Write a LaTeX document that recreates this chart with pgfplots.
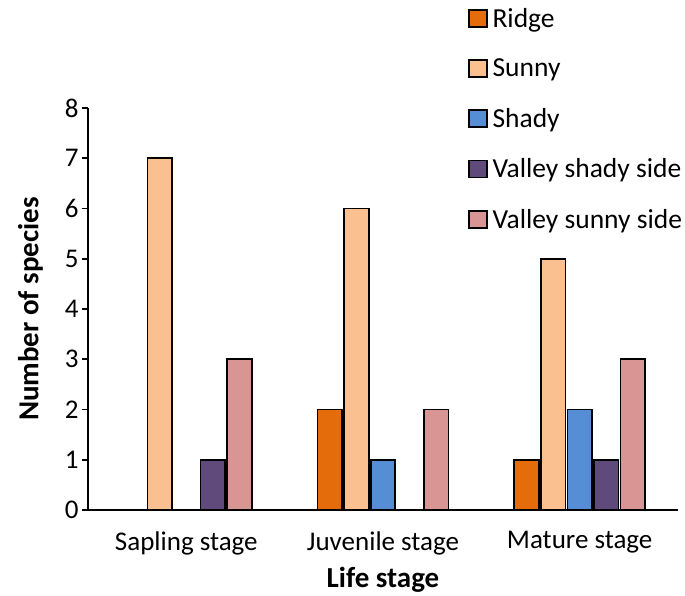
\documentclass[border=0pt]{standalone}
\usepackage{pgfplots}
\pgfplotsset{compat=1.18}
\usepackage{fontspec}
\setmainfont{Carlito}
\definecolor{cRidge}{HTML}{E46C0A}
\definecolor{cSunny}{HTML}{FAC090}
\definecolor{cShady}{HTML}{558ED5}
\definecolor{cVsh}{HTML}{604A7B}
\definecolor{cVsu}{HTML}{D99594}
\begin{document}
\begin{tikzpicture}
\begin{axis}[
  scale only axis,
  width=590pt, height=402pt,
  ybar, bar width=0.125,
  xmin=-0.5, xmax=2.5, ymin=0, ymax=8,
  xtick={0,1,2},
  xticklabels={Sapling stage,Juvenile stage,Mature stage},
  ytick={0,1,...,8},
  axis x line=bottom, axis y line=left,
  axis line style={-, line width=1.6pt, black},
  x tick style={draw=none},
  y tick style={line width=1.6pt, black},
  tick align=outside, major tick length=6pt,
  /pgf/number format/assume math mode=true,
  ticklabel style={font=\fontsize{27}{31}\selectfont},
  xticklabel style={yshift=-12pt},
  xlabel={\textbf{Life stage}},
  ylabel={\textbf{Number of species}},
  label style={font=\fontsize{29}{33}\selectfont},
  xlabel style={yshift=-5pt},
  ylabel style={yshift=15pt},
  every axis plot/.append style={draw=black, line width=1.6pt},
  legend cell align=left,
  legend style={draw=none, at={(0.644,1.254)}, anchor=north west,
    font=\fontsize{27.5}{31}\selectfont, row sep=26pt, inner sep=0pt,
    nodes={inner xsep=5pt}},
  legend image code/.code={\draw[#1, line width=1.4pt] (0pt,-8.5pt) rectangle (18pt,8.5pt);},
]
\addplot[fill=cRidge] coordinates {(0,0) (1,2) (2,1)};
\addplot[fill=cSunny] coordinates {(0,7) (1,6) (2,5)};
\addplot[fill=cShady] coordinates {(0,0) (1,1) (2,2)};
\addplot[fill=cVsh] coordinates {(0,1) (1,0) (2,1)};
\addplot[fill=cVsu] coordinates {(0,3) (1,2) (2,3)};
\legend{Ridge,Sunny,Shady,Valley shady side,Valley sunny side}
\end{axis}
\pgfresetboundingbox
\path (current axis.south west) ++(-88pt,-86pt) rectangle ++(685pt,596pt);
\end{tikzpicture}
\end{document}
